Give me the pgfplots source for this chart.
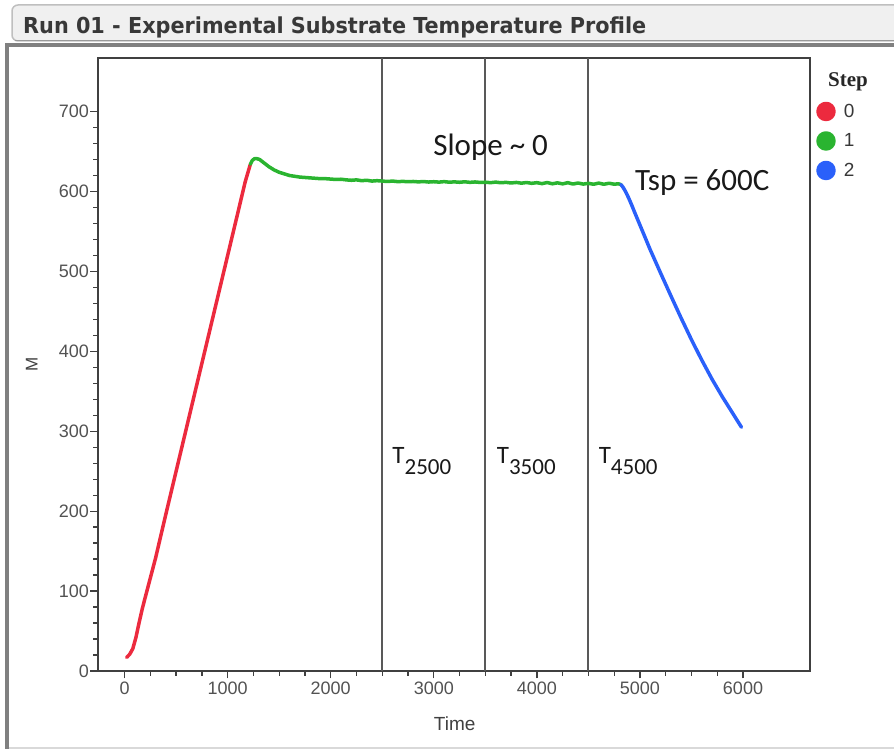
\documentclass[border=0pt]{standalone}
\usepackage{fontspec}
\usepackage{graphicx}
\usepackage{pgfplots}
\pgfplotsset{compat=1.18}
\setmainfont{Liberation Sans}
\newfontfamily\calibri{Carlito}
\newfontfamily\legserif{Liberation Serif}
\newfontfamily\titlefont{DejaVu Sans Condensed}

\definecolor{stepred}{RGB}{236,42,62}
\definecolor{stepgreen}{RGB}{42,180,48}
\definecolor{stepblue}{RGB}{42,96,250}

\begin{document}
\begin{tikzpicture}
\useasboundingbox (0pt,0pt) rectangle (894pt,749pt);

% window panel and title bar
\draw[black!15, line width=2pt] (7pt,1pt) -- (960pt,1pt);
\draw[black!50, line width=3.5pt] (7pt,0pt) -- (7pt,704pt) -- (960pt,704pt);
\filldraw[fill=black!6, draw=black!25, line width=1.5pt, rounded corners=6pt]
  (12pt,708pt) rectangle (980pt,744pt);
\draw[black!40, line width=1.2pt] (15pt,708.5pt) -- (960pt,708.5pt);
\node[anchor=base west, inner sep=0pt, text=black!78]
  at (23pt,715.5pt) {\resizebox{623pt}{\height}{\titlefont\bfseries\fontsize{22}{22}\selectfont Run 01 - Experimental Substrate Temperature Profile}};

\begin{axis}[
  at={(98pt,78pt)}, anchor=south west,
  scale only axis, width=712pt, height=613pt,
  xmin=-258, xmax=6650, ymin=0, ymax=767,
  axis line style={black!75, line width=1.6pt},
  xtick={0,1000,...,6000}, ytick={0,100,...,700},
  minor x tick num=3, minor y tick num=4,
  xtick pos=bottom, ytick pos=left, tick align=outside,
  major tick length=7.5pt, minor tick length=5pt,
  tick style={black!75, line width=1.3pt},
  ticklabel style={font=\fontsize{18}{18}\selectfont, text=black!68},
  yticklabel style={xshift=2pt},
  /pgf/number format/assume math mode=true,
  /pgf/number format/set thousands separator={},
  xlabel={Time}, ylabel={M},
  xlabel style={at={(axis description cs:0.501,-0.0865)}, anchor=center,
    font=\fontsize{19}{19}\selectfont, text=black!75},
  ylabel style={at={(axis description cs:-0.093,0.5)}, anchor=center,
    font=\fontsize{17}{17}\selectfont, text=black!75},
  clip=false,
  legend style={at={(axis description cs:1.0085,0.929)}, anchor=north west,
    draw=none, fill=none, font=\fontsize{19}{19}\selectfont, text=black!78,
    row sep=10pt, inner sep=0pt},
  legend cell align=left,
  legend image code/.code={\fill[#1] (6pt,0pt) circle (8pt); \path (20pt,0pt);},
]

% marker lines at T = 2500, 3500, 4500
\addplot[black!65, line width=2pt, forget plot] coordinates {(2500,0) (2500,767)};
\addplot[black!65, line width=2pt, forget plot] coordinates {(3500,0) (3500,767)};
\addplot[black!65, line width=2pt, forget plot] coordinates {(4500,0) (4500,767)};

% step 0: ramp up
\addplot[color=stepred, line width=3.5pt, line join=round, line cap=round] coordinates {
  (20,17) (50,21) (80,28) (110,42) (140,60) (170,77) (200,92) (300,141)
  (400,196) (500,250) (600,304) (700,358) (800,412) (900,466) (1000,520)
  (1100,574) (1170,612) (1220,634)
};
\addlegendentry{0}

% step 1: hold at setpoint
\addplot[color=stepgreen, line width=3.5pt, line join=round, line cap=round] coordinates {
  (1220,634) (1240,639) (1260,641) (1285,641) (1310,640) (1340,637) (1370,634)
  (1400,631) (1450,627) (1500,624) (1550,622) (1600,620) (1650,619) (1700,618)
  (1750,617.5) (1800,617) (1850,616.5) (1900,616) (1950,616) (2000,615.5)
  (2050,615) (2100,615.3) (2150,614.5) (2200,614) (2250,614.5) (2300,613.5)
  (2350,614) (2400,613) (2450,613.5) (2500,613) (2550,612.5) (2600,613)
  (2650,612.3) (2700,612.6) (2750,612.2) (2800,612.5) (2850,612) (2900,612.4)
  (2950,611.8) (3000,612.2) (3050,611.7) (3100,612.3) (3150,611.6) (3200,612)
  (3250,611.5) (3300,612.1) (3350,611.4) (3400,611.9) (3450,611.3) (3500,611.6)
  (3550,611) (3600,611.7) (3650,610.9) (3700,611.4) (3750,610.6) (3800,611.3)
  (3850,610.4) (3900,611.2) (3950,610.2) (4000,611) (4050,609.8) (4100,611.2)
  (4150,609.6) (4200,610.8) (4250,609.5) (4300,611) (4350,609.3) (4400,610.6)
  (4450,609.2) (4500,610.2) (4550,609) (4600,610.5) (4650,609) (4700,610.3)
  (4750,609.1) (4790,609.6) (4815,608.7)
};
\addlegendentry{1}

% step 2: cool down
\addplot[color=stepblue, line width=3.5pt, line join=round, line cap=round] coordinates {
  (4815,608.7) (4835,605.5) (4860,600) (4890,592) (4920,583) (4950,573.5)
  (5000,558) (5050,542.5) (5100,527) (5200,498) (5300,469.5) (5400,441.5)
  (5500,414.5) (5600,389) (5700,365) (5800,343) (5900,322.5) (5985,305)
};
\addlegendentry{2}

% annotations
\node[anchor=center, inner sep=0pt, text=black!90]
  at (axis cs:3552,655) {\calibri\fontsize{31}{31}\selectfont Slope \textasciitilde{} 0};
\node[anchor=west, inner sep=0pt, text=black!90]
  at (axis cs:4951,611) {\calibri\fontsize{31}{31}\selectfont Tsp = 600C};
\node[anchor=base west, inner sep=0pt, text=black!90]
  at (axis cs:2597,260) {\calibri\fontsize{25}{25}\selectfont T\raisebox{-11pt}{\fontsize{23}{23}\selectfont 2500}};
\node[anchor=base west, inner sep=0pt, text=black!90]
  at (axis cs:3610,260) {\calibri\fontsize{25}{25}\selectfont T\raisebox{-11pt}{\fontsize{23}{23}\selectfont 3500}};
\node[anchor=base west, inner sep=0pt, text=black!90]
  at (axis cs:4599,260) {\calibri\fontsize{25}{25}\selectfont T\raisebox{-11pt}{\fontsize{23}{23}\selectfont 4500}};
\end{axis}

% legend heading
\node[anchor=center, inner sep=0pt, text=black!85]
  at (848pt,667pt) {\legserif\bfseries\fontsize{21}{21}\selectfont Step};
\end{tikzpicture}
\end{document}
